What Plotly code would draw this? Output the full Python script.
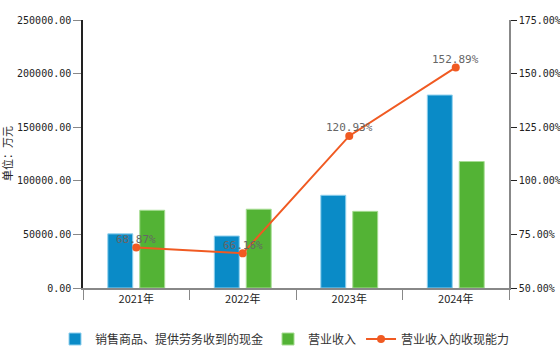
import plotly.graph_objects as go

categories = ["2021年", "2022年", "2023年", "2024年"]
cash_received = [50500, 48500, 86500, 180000]
revenue = [72500, 73500, 71500, 118000]
ratio = [68.87, 66.16, 120.93, 152.89]
ratio_labels = ["68.87%", "66.16%", "120.93%", "152.89%"]

mono = "DejaVu Sans Mono, Noto Sans CJK SC"
cjk = "Noto Sans CJK SC, DejaVu Sans"

fig = go.Figure()
fig.add_trace(go.Bar(
    x=categories, y=cash_received, name="销售商品、提供劳务收到的现金",
    marker=dict(color="#0a8bc7", line=dict(color="#8fd0ee", width=1)),
))
fig.add_trace(go.Bar(
    x=categories, y=revenue, name="营业收入",
    marker=dict(color="#53b335", line=dict(color="#a6dc92", width=1)),
))
fig.add_trace(go.Scatter(
    x=categories, y=ratio, name="营业收入的收现能力", yaxis="y2",
    mode="lines+markers",
    line=dict(color="#f05a22", width=2), marker=dict(color="#f05a22", size=8),
))

for c, v, t in zip(categories, ratio, ratio_labels):
    fig.add_annotation(x=c, y=v, xref="x", yref="y2", text=t, showarrow=False,
                       yshift=8, font=dict(family=mono, size=11, color="#666666"))

fig.add_annotation(x=(7 - 83) / 426, xref="paper", xanchor="center",
                   y=0.5, yref="paper", yanchor="middle", text="单位：万元",
                   textangle=-90, showarrow=False,
                   font=dict(family=cjk, size=11, color="#222222"))

fig.update_layout(
    width=560, height=346,
    margin=dict(l=83, r=51, t=20, b=58, autoexpand=False),
    paper_bgcolor="white", plot_bgcolor="white",
    barmode="group", bargap=0.4, bargroupgap=0.22,
    showlegend=True,
    legend=dict(orientation="h", xref="paper", yref="paper",
                x=(55 - 83) / 426, xanchor="left", y=-(339 - 288) / 268, yanchor="middle",
                font=dict(family=cjk, size=12, color="#333333"),
                traceorder="normal", itemwidth=30, tracegroupgap=0),
    xaxis=dict(showline=True, linecolor="#888888", linewidth=1.5,
               ticks="outside", tickson="boundaries", ticklen=10, tickcolor="#888888",
               tickfont=dict(family=cjk, size=11, color="#222222"),
               showgrid=False, zeroline=False),
    yaxis=dict(range=[0, 250000], dtick=50000, tickformat=".2f",
               showline=True, linecolor="#222222", linewidth=1.5,
               ticks="outside", ticklen=8, tickcolor="#888888",
               tickfont=dict(family=mono, size=10, color="#222222"),
               showgrid=False, zeroline=False),
    yaxis2=dict(range=[50, 175], dtick=25, tickformat=".2f", ticksuffix="%",
                overlaying="y", side="right",
                showline=True, linecolor="#888888", linewidth=1.5,
                ticks="outside", ticklen=6, tickcolor="#222222",
                tickfont=dict(family=mono, size=10, color="#222222"),
                showgrid=False, zeroline=False),
)

fig.write_html("out.html")
